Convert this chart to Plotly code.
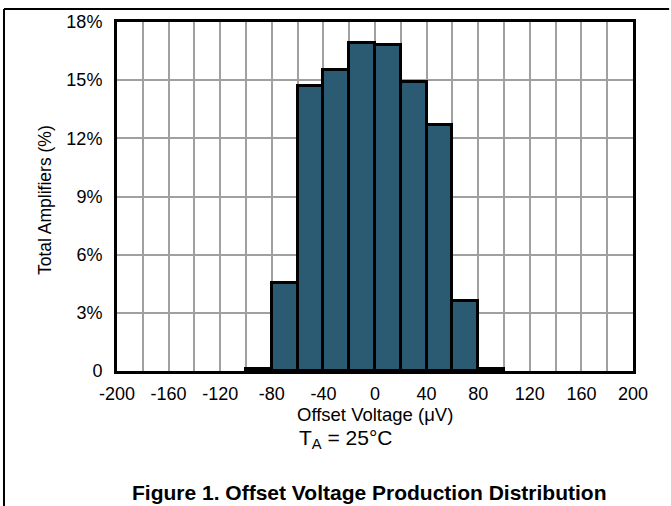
import plotly.graph_objects as go

# histogram bins (left edge, uV) and share of amplifiers (%)
bin_start = [-100, -80, -60, -40, -20, 0, 20, 40, 60, 80]
pct = [0.1, 4.55, 14.7, 15.5, 16.9, 16.8, 14.9, 12.7, 3.6, 0.1]
bin_width = 20

x_ticks = list(range(-200, 201, 40))
x_labels = [str(v) for v in x_ticks]  # plain hyphen, not unicode minus
y_ticks = [0, 3, 6, 9, 12, 15, 18]
y_labels = ["0", "3%", "6%", "9%", "12%", "15%", "18%"]

FONT = "Liberation Sans, Arial, sans-serif"
BAR = "#2a5b73"
GRID = "#a0a0a0"

fig = go.Figure()
fig.add_trace(go.Bar(
    x=bin_start, y=pct, width=bin_width, offset=0,
    marker=dict(color=BAR, line=dict(color="black", width=3)),
    showlegend=False, hoverinfo="x+y",
))

fig.update_layout(
    width=671, height=506,
    margin=dict(l=117, r=38, t=17, b=135),
    paper_bgcolor="white", plot_bgcolor="white",
    font=dict(family=FONT, size=18, color="black"),
    bargap=0,
    xaxis=dict(
        range=[-200, 200], tickvals=x_ticks, ticktext=x_labels, ticks="",
        ticklabelstandoff=4,
        showgrid=True, gridcolor=GRID, gridwidth=2,
        minor=dict(dtick=20, showgrid=True, gridcolor=GRID, gridwidth=2),
        showline=True, linecolor="black", linewidth=3, mirror=True,
        zeroline=False, fixedrange=True,
    ),
    yaxis=dict(
        range=[0, 18], tickvals=y_ticks, ticktext=y_labels, ticks="",
        ticklabelstandoff=8,
        showgrid=True, gridcolor=GRID, gridwidth=2,
        showline=True, linecolor="black", linewidth=3, mirror=True,
        zeroline=False, fixedrange=True,
    ),
)

annots = [
    dict(text="Offset Voltage (\u03bcV)", x=0.5, y=-0.125, size=18.5),
    dict(text="T<sub>A</sub> = 25\u00b0C", x=0.442, y=-0.194, size=21),
    dict(text="<b>Figure 1. Offset Voltage Production Distribution</b>", x=0.488, y=-0.347, size=21),
]
for a in annots:
    fig.add_annotation(text=a["text"], x=a["x"], y=a["y"], xref="paper", yref="paper",
                       showarrow=False, xanchor="center", yanchor="middle",
                       font=dict(family=FONT, size=a["size"], color="black"))

fig.add_annotation(text="Total Amplifiers (%)", x=-0.1395, y=0.49, xref="paper", yref="paper",
                   showarrow=False, textangle=-90, xanchor="center", yanchor="middle",
                   font=dict(family=FONT, size=17.5, color="black"))

# outer frame of the datasheet figure (top and left edges)
fig.add_shape(type="line", xref="paper", yref="paper", x0=-0.219, x1=1.07, y0=1.037, y1=1.037,
              line=dict(color="black", width=2))
fig.add_shape(type="line", xref="paper", yref="paper", x0=-0.219, x1=-0.219, y0=1.037, y1=-0.39,
              line=dict(color="black", width=2))

# drop the page's default body margin so the figure sits at the window origin
fig.write_html("out.html", config={"displayModeBar": False},
               post_script="document.body.style.margin='0';")
